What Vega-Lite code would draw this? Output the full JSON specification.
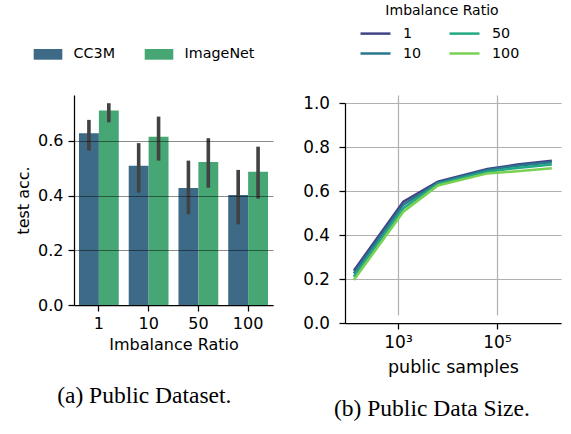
{
  "$schema": "https://vega.github.io/schema/vega-lite/v6.json",
  "background": "white",
  "padding": {"left": 15, "top": 4, "right": 5, "bottom": 5},
  "config": {
    "view": {"stroke": null},
    "font": "DejaVu Sans",
    "axis": {
      "labelFont": "DejaVu Sans", "titleFont": "DejaVu Sans",
      "labelColor": "black", "titleColor": "black",
      "domainColor": "black", "tickColor": "black",
      "titleFontWeight": "normal", "domainWidth": 1.25, "tickWidth": 1.25
    },
    "legend": {"labelFont": "DejaVu Sans", "titleFont": "DejaVu Sans", "labelColor": "black", "titleColor": "black", "padding": 0}
  },
  "bounds": "flush",
  "spacing": 72,
  "resolve": {"scale": {"color": "independent", "x": "independent", "y": "independent"}},
  "hconcat": [
    {
      "width": 199,
      "height": 210,
      "title": {"text": "(a) Public Dataset.", "orient": "bottom", "frame": "bounds", "font": "Liberation Serif", "fontSize": 23.5, "fontWeight": "normal", "color": "black", "offset": 32, "anchor": "middle"},
      "data": {"values": [
        {"ratio": "1", "dataset": "CC3M", "acc": 0.628, "lo": 0.565, "hi": 0.677},
        {"ratio": "1", "dataset": "ImageNet", "acc": 0.711, "lo": 0.668, "hi": 0.738},
        {"ratio": "10", "dataset": "CC3M", "acc": 0.509, "lo": 0.411, "hi": 0.592},
        {"ratio": "10", "dataset": "ImageNet", "acc": 0.615, "lo": 0.528, "hi": 0.689},
        {"ratio": "50", "dataset": "CC3M", "acc": 0.428, "lo": 0.332, "hi": 0.528},
        {"ratio": "50", "dataset": "ImageNet", "acc": 0.523, "lo": 0.429, "hi": 0.61},
        {"ratio": "100", "dataset": "CC3M", "acc": 0.402, "lo": 0.295, "hi": 0.494},
        {"ratio": "100", "dataset": "ImageNet", "acc": 0.487, "lo": 0.389, "hi": 0.579}
      ]},
      "encoding": {
        "x": {"field": "ratio", "type": "ordinal", "sort": ["1", "10", "50", "100"],
          "scale": {"paddingInner": 0.2, "paddingOuter": 0.1},
          "title": "Imbalance Ratio",
          "axis": {"labelAngle": 0, "labelFontSize": 16, "titleFontSize": 16, "tickSize": 6, "labelPadding": 4, "titlePadding": 5}},
        "xOffset": {"field": "dataset", "type": "nominal", "sort": ["CC3M", "ImageNet"], "scale": {"paddingInner": 0, "paddingOuter": 0}}
      },
      "layer": [
        {
          "mark": {"type": "bar"},
          "encoding": {
            "y": {"field": "acc", "type": "quantitative", "title": "test acc.",
              "scale": {"domain": [0, 0.768], "nice": false, "zero": true},
              "axis": {"values": [0, 0.2, 0.4, 0.6], "format": ".1f", "grid": true, "gridColor": "black", "gridOpacity": 0.45, "gridWidth": 1.2, "zindex": 1,
                "labelFontSize": 16, "titleFontSize": 16, "tickSize": 6, "labelPadding": 5, "titlePadding": 6}},
            "color": {"field": "dataset", "type": "nominal", "sort": ["CC3M", "ImageNet"],
              "scale": {"range": ["#3d6a87", "#46a775"]},
              "legend": {"orient": "none", "legendX": -36, "legendY": -51, "direction": "horizontal", "columns": 2, "title": null,
                "symbolType": "M-1.43,-0.535H1.43V0.535H-1.43Z", "symbolSize": 400, "symbolStrokeWidth": 0, "symbolOpacity": 1,
                "labelFontSize": 14.3, "labelOffset": 15.6, "columnPadding": 29}}
          }
        },
        {
          "mark": {"type": "rule", "color": "#424242", "strokeWidth": 3.6},
          "encoding": {
            "y": {"field": "lo", "type": "quantitative"},
            "y2": {"field": "hi"}
          }
        }
      ]
    },
    {
      "width": 216,
      "height": 228,
      "title": {"text": "(b) Public Data Size.", "orient": "bottom", "frame": "bounds", "font": "Liberation Serif", "fontSize": 23.5, "fontWeight": "normal", "color": "black", "offset": 21, "anchor": "middle"},
      "data": {"values": [
        {"n": 128, "ratio": "1", "acc": 0.238},
        {"n": 1280, "ratio": "1", "acc": 0.551},
        {"n": 6400, "ratio": "1", "acc": 0.642},
        {"n": 64000, "ratio": "1", "acc": 0.700},
        {"n": 256000, "ratio": "1", "acc": 0.720},
        {"n": 1280000, "ratio": "1", "acc": 0.738},
        {"n": 128, "ratio": "10", "acc": 0.225},
        {"n": 1280, "ratio": "10", "acc": 0.538},
        {"n": 6400, "ratio": "10", "acc": 0.637},
        {"n": 64000, "ratio": "10", "acc": 0.695},
        {"n": 256000, "ratio": "10", "acc": 0.715},
        {"n": 1280000, "ratio": "10", "acc": 0.731},
        {"n": 128, "ratio": "50", "acc": 0.210},
        {"n": 1280, "ratio": "50", "acc": 0.522},
        {"n": 6400, "ratio": "50", "acc": 0.632},
        {"n": 64000, "ratio": "50", "acc": 0.688},
        {"n": 256000, "ratio": "50", "acc": 0.705},
        {"n": 1280000, "ratio": "50", "acc": 0.720},
        {"n": 128, "ratio": "100", "acc": 0.195},
        {"n": 1280, "ratio": "100", "acc": 0.506},
        {"n": 6400, "ratio": "100", "acc": 0.625},
        {"n": 64000, "ratio": "100", "acc": 0.680},
        {"n": 256000, "ratio": "100", "acc": 0.690},
        {"n": 1280000, "ratio": "100", "acc": 0.703}
      ]},
      "mark": {"type": "line", "strokeWidth": 2.5},
      "encoding": {
        "x": {"field": "n", "type": "quantitative", "title": "public samples",
          "scale": {"type": "log", "domain": [85, 1960000], "nice": false},
          "axis": {"values": [1000, 100000], "labelExpr": "datum.value == 1000 ? '10³' : '10⁵'", "grid": true, "gridColor": "#b0b0b0", "gridWidth": 1.2,
            "labelFontSize": 17, "titleFontSize": 17.5, "tickSize": 6, "labelPadding": 5, "titlePadding": 8}},
        "y": {"field": "acc", "type": "quantitative", "title": null,
          "scale": {"domain": [0, 1], "range": [228, 8], "nice": false},
          "axis": {"values": [0, 0.2, 0.4, 0.6, 0.8, 1.0], "format": ".1f", "grid": true, "gridColor": "#b0b0b0", "gridWidth": 1.2,
            "labelFontSize": 16.8, "tickSize": 6, "labelPadding": 9.5}},
        "color": {"field": "ratio", "type": "ordinal",
          "scale": {"domain": ["1", "50", "10", "100"], "range": ["#414487", "#22a884", "#2a788e", "#7ad151"]},
          "legend": {"orient": "none", "legendX": 19, "legendY": -91, "direction": "horizontal", "columns": 2,
            "title": "Imbalance Ratio", "titleFontSize": 14, "titleFontWeight": "normal", "titleAnchor": "middle", "titlePadding": 4,
            "symbolType": "M-1.5,0H1.5", "symbolSize": 400, "symbolStrokeWidth": 2.5,
            "labelFontSize": 14.3, "labelOffset": 16, "columnPadding": 22, "rowPadding": 1}}
      }
    }
  ]
}
